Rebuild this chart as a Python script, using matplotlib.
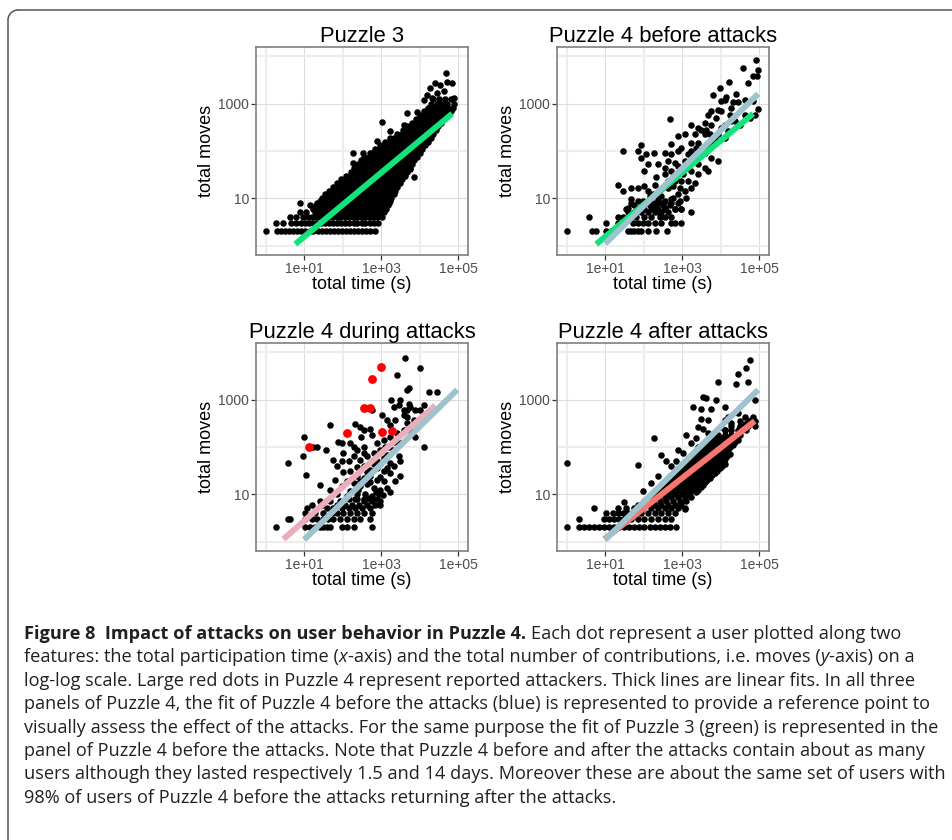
import numpy as np
import matplotlib
matplotlib.use('Agg')
import matplotlib.pyplot as plt
from matplotlib.patches import Arc
from matplotlib.ticker import NullFormatter

W, H = 953, 840

#### data: log10(total time in s), log10(total moves) ####

# Puzzle 3 : dense cloud, one row per moves level
p3_levels = [0.30, 0.48, 0.60, 0.70, 0.78, 0.85, 0.90, 0.95, 1.00, 1.08, 1.16, 1.24,
             1.32, 1.40, 1.48, 1.56, 1.64, 1.72, 1.80, 1.88, 1.96, 2.04, 2.12, 2.20,
             2.28, 2.36, 2.44, 2.52, 2.60, 2.68, 2.76, 2.84, 2.92, 3.00, 3.10]
p3_rows = [
    [0.0, 0.29, 0.40, 0.50, 0.61, 0.72, 0.82, 0.93, 1.03, 1.14, 1.24, 1.35, 1.45, 1.56, 1.66, 1.77, 1.87, 1.98, 2.08, 2.19, 2.29, 2.40, 2.50, 2.61, 2.71, 2.84],
    [0.27, 0.46, 0.66, 0.80, 0.91, 1.02, 1.12, 1.23, 1.33, 1.44, 1.54, 1.65, 1.75, 1.86, 1.96, 2.07, 2.17, 2.28, 2.38, 2.49, 2.59, 2.70, 2.80, 2.92],
    [0.64, 0.80, 0.98, 1.10, 1.21, 1.31, 1.42, 1.52, 1.63, 1.73, 1.84, 1.94, 2.05, 2.15, 2.26, 2.36, 2.47, 2.57, 2.68, 2.78, 2.89, 3.02],
    [0.88, 1.05, 1.27, 1.38, 1.48, 1.59, 1.69, 1.80, 1.90, 2.01, 2.11, 2.22, 2.32, 2.43, 2.53, 2.64, 2.74, 2.85, 2.95, 3.08],
    [1.22, 1.33, 1.44, 1.54, 1.65, 1.75, 1.86, 1.96, 2.07, 2.17, 2.28, 2.38, 2.49, 2.59, 2.70, 2.80, 2.91, 3.01, 3.12],
    [1.15, 1.30, 1.41, 1.51, 1.62, 1.72, 1.83, 1.93, 2.04, 2.14, 2.25, 2.35, 2.46, 2.56, 2.67, 2.77, 2.88, 2.98, 3.10, 3.17],
    [0.88, 1.32, 1.47, 1.58, 1.68, 1.79, 1.89, 2.00, 2.10, 2.21, 2.31, 2.42, 2.52, 2.63, 2.73, 2.84, 2.94, 3.05, 3.20],
    [1.40, 1.52, 1.63, 1.73, 1.84, 1.94, 2.05, 2.15, 2.26, 2.36, 2.47, 2.57, 2.68, 2.78, 2.89, 2.99, 3.10, 3.22],
    [1.45, 1.58, 1.69, 1.79, 1.90, 2.00, 2.11, 2.21, 2.32, 2.42, 2.53, 2.63, 2.74, 2.84, 2.95, 3.05, 3.16, 3.25],
    [1.55, 1.66, 1.76, 1.87, 1.97, 2.08, 2.18, 2.29, 2.39, 2.50, 2.60, 2.71, 2.81, 2.92, 3.02, 3.13, 3.23, 3.32],
    [1.64, 1.75, 1.85, 1.96, 2.06, 2.17, 2.27, 2.38, 2.48, 2.59, 2.69, 2.80, 2.90, 3.01, 3.11, 3.22, 3.36],
    [1.74, 1.85, 1.95, 2.06, 2.16, 2.27, 2.37, 2.48, 2.58, 2.69, 2.79, 2.90, 3.00, 3.11, 3.21, 3.32, 3.42],
    [1.84, 1.95, 2.05, 2.16, 2.26, 2.37, 2.47, 2.58, 2.68, 2.79, 2.89, 3.00, 3.10, 3.21, 3.31, 3.40, 3.49],
    [1.95, 2.06, 2.16, 2.27, 2.37, 2.48, 2.58, 2.69, 2.79, 2.90, 3.00, 3.11, 3.21, 3.32, 3.42, 3.55],
    [2.09, 2.20, 2.30, 2.41, 2.51, 2.62, 2.72, 2.83, 2.93, 3.04, 3.14, 3.25, 3.35, 3.46, 3.56, 3.61],
    [2.21, 2.32, 2.42, 2.53, 2.63, 2.74, 2.84, 2.95, 3.05, 3.16, 3.26, 3.37, 3.47, 3.58, 3.68],
    [2.30, 2.41, 2.51, 2.62, 2.72, 2.83, 2.93, 3.04, 3.14, 3.25, 3.35, 3.46, 3.56, 3.67, 3.74],
    [2.39, 2.50, 2.60, 2.71, 2.81, 2.92, 3.02, 3.13, 3.23, 3.34, 3.44, 3.55, 3.65, 3.76, 3.80],
    [2.48, 2.59, 2.69, 2.80, 2.90, 3.01, 3.11, 3.22, 3.32, 3.43, 3.53, 3.64, 3.74, 3.86],
    [2.56, 2.67, 2.77, 2.88, 2.98, 3.09, 3.19, 3.30, 3.40, 3.51, 3.61, 3.72, 3.82, 3.93],
    [2.71, 2.82, 2.92, 3.03, 3.13, 3.24, 3.34, 3.45, 3.55, 3.66, 3.76, 3.87, 4.00],
    [2.84, 2.95, 3.05, 3.16, 3.26, 3.37, 3.47, 3.58, 3.68, 3.79, 3.89, 4.00, 4.06],
    [2.97, 3.08, 3.18, 3.29, 3.39, 3.50, 3.60, 3.71, 3.81, 3.92, 4.02, 4.13],
    [3.10, 3.21, 3.31, 3.42, 3.52, 3.63, 3.73, 3.84, 3.94, 4.05, 4.15, 4.20],
    [3.23, 3.34, 3.44, 3.55, 3.65, 3.76, 3.86, 3.97, 4.07, 4.18, 4.28],
    [3.42, 3.53, 3.63, 3.74, 3.84, 3.95, 4.05, 4.16, 4.26, 4.35],
    [3.56, 3.67, 3.77, 3.88, 3.98, 4.09, 4.19, 4.30, 4.41],
    [3.67, 3.78, 3.88, 3.99, 4.09, 4.20, 4.30, 4.41, 4.48],
    [3.80, 3.91, 4.01, 4.12, 4.22, 4.33, 4.43, 4.55],
    [3.90, 4.01, 4.11, 4.22, 4.32, 4.43, 4.53, 4.62],
    [4.00, 4.11, 4.21, 4.32, 4.42, 4.53, 4.63, 4.70],
    [4.10, 4.21, 4.31, 4.42, 4.52, 4.63, 4.73, 4.80],
    [4.22, 4.35, 4.47, 4.60, 4.72, 4.85],
    [4.29, 4.45, 4.58, 4.70, 4.88],
    [4.35, 4.50, 4.66, 4.80],
]
p3_pts = [(3.01, 2.61), (2.26, 1.96), (2.26, 1.75), (2.52, 1.96), (2.76, 1.96), (2.89, 2.21),
          (3.23, 2.42), (3.58, 2.56), (3.84, 1.46), (3.75, 1.61), (4.17, 2.24), (3.93, 2.82),
          (3.67, 2.80), (4.69, 3.65), (4.40, 3.44), (4.71, 3.47), (4.84, 3.44), (4.53, 3.40),
          (4.27, 3.34), (4.19, 3.19), (4.45, 3.22), (4.62, 3.27), (4.88, 3.12), (4.10, 3.08),
          (4.32, 3.12)]

# Puzzle 4 before the attacks
before_pts = [
    (0.0, 0.30), (0.66, 0.30), (0.77, 0.30), (1.03, 0.30), (1.16, 0.30), (1.29, 0.30), (1.59, 0.30),
    (1.68, 0.30), (1.76, 0.30), (1.85, 0.30), (1.94, 0.30), (2.11, 0.30), (2.32, 0.30), (2.60, 0.30),
    (1.03, 0.48), (1.33, 0.48), (1.50, 0.48), (1.72, 0.48), (1.85, 0.48), (1.98, 0.48), (2.11, 0.48),
    (2.28, 0.48), (2.45, 0.48), (2.71, 0.48), (2.80, 0.48), (2.97, 0.48),
    (0.59, 0.60), (1.33, 0.60), (1.46, 0.60), (1.68, 0.60), (1.81, 0.60), (2.02, 0.60), (2.19, 0.60),
    (2.41, 0.60), (2.54, 0.60), (2.71, 0.60),
    (1.59, 0.70), (1.76, 0.70), (1.94, 0.70), (2.11, 0.70), (2.28, 0.70), (2.45, 0.70), (2.63, 0.70), (3.22, 0.70),
    (1.55, 0.78), (1.85, 0.78), (2.02, 0.78), (2.19, 0.78), (2.37, 0.78), (2.54, 0.78), (2.80, 0.78), (2.97, 0.78),
    (1.76, 0.85), (1.98, 0.85), (2.15, 0.85), (2.32, 0.85), (2.50, 0.85), (2.67, 0.85),
    (1.68, 0.90), (2.11, 0.90), (2.28, 0.90), (2.45, 0.90), (2.71, 0.90), (2.89, 0.90),
    (1.85, 0.95), (2.15, 0.95), (2.37, 1.00), (2.54, 0.95), (2.76, 1.00), (2.93, 0.95), (3.10, 1.00),
    (1.33, 1.28), (1.46, 1.15), (1.68, 1.22), (1.85, 1.22), (2.02, 1.26), (2.11, 1.15), (2.28, 1.29),
    (2.45, 1.19), (2.63, 1.22), (2.80, 1.36), (2.97, 1.36), (3.15, 1.36), (3.32, 1.33),
    (1.68, 0.98), (1.98, 0.94), (2.15, 1.05), (2.37, 0.94), (2.71, 0.98), (2.89, 1.08), (3.06, 1.15),
    (3.23, 1.22), (1.94, 0.77), (2.41, 0.66), (2.80, 0.78), (2.97, 0.78),
    (1.46, 2.01), (1.94, 2.12), (1.94, 1.86), (2.26, 1.96), (2.54, 1.96), (2.67, 2.68), (2.11, 1.72),
    (2.37, 1.72), (2.63, 1.79), (2.80, 1.75), (2.71, 1.93), (2.89, 2.00), (2.97, 2.07), (2.32, 1.44),
    (2.54, 1.51), (2.71, 1.58), (2.97, 1.58), (3.23, 1.58), (3.41, 1.51), (3.67, 1.58), (3.06, 1.79),
    (3.32, 1.79), (3.58, 1.65), (2.89, 2.31), (3.06, 2.35), (3.23, 2.17), (3.41, 2.17), (3.67, 2.14),
    (3.23, 2.00), (3.58, 1.96), (3.75, 1.86), (3.93, 1.79), (4.10, 2.28), (3.32, 2.35), (3.58, 2.35),
    (3.71, 2.35), (3.84, 2.28), (3.41, 2.49), (3.49, 2.45), (3.62, 2.45), (3.23, 2.56), (3.58, 2.59),
    (3.67, 2.77), (3.88, 2.70), (4.10, 2.56), (3.75, 2.84), (3.93, 2.87), (4.01, 2.84), (4.27, 2.91),
    (4.01, 3.05), (4.10, 3.08), (4.32, 3.03), (3.80, 3.19), (4.14, 3.15), (4.40, 3.21), (3.97, 3.33),
    (4.21, 3.47), (4.71, 3.44), (4.58, 3.75), (4.90, 3.93), (4.97, 3.72), (4.94, 3.58), (4.84, 3.58),
    (4.97, 2.89), (4.62, 2.77), (4.88, 2.77), (4.75, 2.70), (4.49, 2.56), (4.84, 3.05), (4.45, 3.03),
    (4.62, 3.08), (4.23, 2.77), (4.36, 2.63),
    (2.24, 1.08), (2.45, 1.05), (2.63, 1.36), (2.76, 1.26), (2.93, 1.22), (2.54, 1.65), (2.89, 1.68),
    (3.15, 1.68), (3.23, 1.79), (3.45, 1.89), (3.15, 1.93), (3.36, 2.07), (3.58, 2.10), (3.75, 2.21),
    (3.93, 2.35), (4.01, 2.49), (4.19, 2.42), (4.27, 2.63), (3.75, 2.56), (3.41, 1.72), (3.02, 1.51),
    (2.84, 1.44), (2.02, 1.58), (1.59, 0.80), (2.28, 0.80), (2.54, 0.80), (1.85, 2.00), (2.06, 1.93),
    (2.71, 2.14),
]

# Puzzle 4 during the attacks (black) and reported attackers (red)
during_pts = [
    (0.27, 0.30), (1.03, 0.30), (1.16, 0.30), (1.29, 0.30), (1.42, 0.30), (1.50, 0.30), (1.59, 0.30),
    (1.68, 0.30), (1.98, 0.30), (2.11, 0.30), (2.28, 0.30), (2.76, 0.30),
    (0.58, 0.48), (0.64, 0.48), (1.03, 0.48), (1.20, 0.48), (1.33, 0.48), (1.50, 0.48), (1.63, 0.48),
    (1.76, 0.48), (1.94, 0.48), (2.11, 0.48), (2.28, 0.48), (2.45, 0.48), (2.71, 0.48),
    (1.03, 0.60), (1.29, 0.60), (1.50, 0.60), (1.72, 0.60), (1.85, 0.60), (2.02, 0.60), (2.19, 0.60),
    (2.37, 0.60), (2.54, 0.60), (2.76, 0.60),
    (1.07, 0.70), (1.59, 0.70), (1.76, 0.70), (1.98, 0.70), (2.15, 0.70), (2.32, 0.70), (2.50, 0.70), (2.71, 0.70),
    (1.20, 0.78), (1.46, 0.78), (1.85, 0.78), (2.06, 0.78), (2.24, 0.78), (2.41, 0.78), (2.63, 0.78),
    (2.84, 0.78), (2.97, 0.78),
    (1.42, 0.85), (1.68, 0.85), (1.94, 0.85), (2.15, 0.90), (2.37, 0.90), (2.54, 0.90), (2.71, 0.90), (2.89, 0.90),
    (0.58, 1.66), (1.00, 2.21), (0.98, 1.82), (1.05, 1.40), (1.24, 2.01), (1.33, 2.00), (1.57, 1.93),
    (1.66, 2.46), (1.42, 1.20), (1.89, 2.11), (1.98, 2.08), (1.98, 1.70), (2.15, 1.70), (2.32, 2.48),
    (2.45, 2.43), (2.54, 2.36), (2.71, 2.39), (2.76, 2.25), (2.28, 2.01), (2.37, 1.94), (2.54, 2.01),
    (2.02, 1.47), (2.19, 1.49), (2.37, 1.58), (2.48, 2.21), (2.76, 2.78), (3.03, 2.67), (3.41, 3.53),
    (3.62, 3.89), (4.01, 3.67), (3.71, 3.25), (3.67, 3.21), (3.26, 3.00), (3.49, 3.00), (3.71, 2.92),
    (3.32, 2.85), (3.45, 2.88), (3.58, 2.78), (3.67, 2.78), (3.75, 2.85), (4.25, 3.16), (4.45, 3.17),
    (4.10, 2.88), (3.15, 2.57), (3.23, 2.46), (3.36, 2.57), (3.58, 2.67), (3.67, 2.64), (3.87, 2.22),
    (4.10, 2.01), (3.75, 2.36), (3.19, 2.01), (3.32, 1.94), (3.45, 1.80), (3.49, 1.70), (3.49, 1.38),
    (3.23, 1.05), (2.97, 0.86),
    (2.28, 1.80), (2.45, 1.73), (2.63, 1.80), (2.80, 1.87), (2.97, 1.94), (2.89, 1.70), (3.06, 1.77),
    (3.23, 1.66), (2.54, 1.59), (2.71, 1.52), (2.89, 1.56), (3.06, 1.49), (3.23, 1.45), (3.32, 1.59),
    (2.37, 1.38), (2.54, 1.35), (2.71, 1.38), (2.89, 1.31), (3.06, 1.28), (3.36, 1.28), (2.28, 1.24),
    (2.45, 1.17), (2.63, 1.21), (2.80, 1.14), (2.97, 1.10), (3.15, 1.14), (2.19, 1.07), (2.37, 1.00),
    (2.58, 1.00), (2.76, 0.97), (2.93, 1.00), (2.11, 0.97), (1.85, 1.00), (1.98, 1.17), (1.68, 1.10),
    (1.81, 1.31), (2.11, 1.28), (2.76, 0.86), (2.54, 0.86), (2.32, 0.90), (2.19, 2.08), (2.02, 1.87),
    (1.76, 1.73), (1.85, 1.59), (2.54, 1.87), (2.89, 2.08), (3.06, 2.15), (3.23, 2.22), (3.41, 2.29),
    (3.58, 2.36), (3.67, 2.50), (3.32, 2.11), (3.10, 2.01), (3.49, 2.08), (3.84, 2.57), (4.01, 2.78),
    (3.88, 2.78), (2.63, 1.47), (2.80, 1.63), (2.97, 1.63), (3.15, 1.84), (2.46, 1.28), (2.72, 1.27),
    (2.97, 1.37), (3.15, 1.55), (2.40, 1.10), (2.86, 1.05), (3.05, 0.98), (2.65, 0.93),
]
attackers = [(1.13, 2.01), (2.11, 2.29), (2.54, 2.83), (2.71, 2.83), (2.77, 3.44), (2.99, 3.70),
             (3.02, 2.31), (3.28, 2.34)]

# Puzzle 4 after the attacks : dense band, one row per moves level, plus scattered users
after_levels = [0.30, 0.48, 0.60, 0.70, 0.78, 0.85, 0.95, 1.00, 1.05, 1.10, 1.15, 1.20,
                1.25, 1.30, 1.35, 1.40, 1.45, 1.50, 1.55, 1.60, 1.65, 1.70, 1.75, 1.80,
                1.85, 1.90, 1.95, 2.00, 2.05, 2.10, 2.15, 2.20, 2.25, 2.35, 2.45, 2.55]
after_rows = [
    [0.0, 0.31, 0.46, 0.59, 0.72, 0.85, 0.98, 1.11, 1.24, 1.37, 1.50, 1.63, 1.76, 1.89, 2.02, 2.15, 2.28, 2.41, 2.54, 2.67, 2.84],
    [0.31, 0.98, 1.11, 1.24, 1.37, 1.50, 1.68, 1.85, 2.02, 2.19, 2.37, 2.54, 2.71],
    [1.03, 1.20, 1.33, 1.46, 1.59, 1.76, 1.94, 2.11, 2.28, 2.45, 2.63, 2.80],
    [0.70, 1.33, 1.55, 1.76, 1.98, 2.19, 2.37, 2.54, 2.71, 2.89, 3.06],
    [1.85, 2.11, 2.28, 2.45, 2.63, 2.80, 2.97],
    [2.02, 2.24, 2.41, 2.58, 2.76, 2.93, 3.10],
    [2.19, 2.37, 2.54, 2.71, 2.89, 3.06, 3.23],
    [2.28, 2.45, 2.62, 2.80, 2.98, 3.15],
    [2.37, 2.50, 2.67, 2.84, 3.02, 3.19, 3.36],
    [2.41, 2.58, 2.75, 2.92, 3.10, 3.27, 3.42],
    [2.45, 2.63, 2.80, 2.97, 3.15, 3.32, 3.49],
    [2.50, 2.67, 2.85, 3.02, 3.19, 3.36, 3.53],
    [2.54, 2.71, 2.89, 3.06, 3.23, 3.41, 3.58],
    [2.62, 2.80, 2.97, 3.14, 3.32, 3.49, 3.64],
    [2.71, 2.89, 3.06, 3.23, 3.41, 3.58, 3.71],
    [2.78, 2.95, 3.12, 3.30, 3.47, 3.64, 3.78],
    [2.84, 3.02, 3.19, 3.36, 3.54, 3.71, 3.84],
    [2.90, 3.08, 3.25, 3.42, 3.60, 3.77, 3.90],
    [2.97, 3.15, 3.32, 3.49, 3.67, 3.84, 3.97],
    [3.04, 3.21, 3.38, 3.56, 3.73, 3.90, 4.03],
    [3.10, 3.28, 3.45, 3.62, 3.80, 3.97, 4.10],
    [3.16, 3.33, 3.50, 3.67, 3.84, 4.01],
    [3.23, 3.41, 3.58, 3.75, 3.93, 4.10],
    [3.30, 3.47, 3.64, 3.81, 3.99, 4.16],
    [3.36, 3.54, 3.71, 3.88, 4.06, 4.23],
    [3.43, 3.60, 3.77, 3.94, 4.12],
    [3.49, 3.67, 3.84, 4.01, 4.19],
    [3.56, 3.73, 3.90, 4.07, 4.25],
    [3.62, 3.80, 3.97, 4.14, 4.32],
    [3.70, 3.86, 4.03, 4.20, 4.38],
    [3.75, 3.93, 4.10, 4.27, 4.45],
    [3.85, 4.02, 4.19, 4.38],
    [3.93, 4.10, 4.27, 4.49],
    [4.10, 4.27, 4.45, 4.66],
    [4.27, 4.49, 4.71, 4.88],
    [4.49, 4.71, 4.88],
]
after_pts = [(0.0, 1.66), (1.85, 1.61), (2.26, 2.18), (2.45, 1.84), (2.58, 1.70), (2.83, 1.70),
             (2.19, 1.24), (2.37, 1.38), (1.98, 1.07), (1.50, 0.83), (3.10, 2.25), (3.28, 2.85),
             (3.49, 2.60), (3.54, 2.39), (3.54, 3.06), (3.62, 3.04), (3.49, 2.81), (3.75, 2.81),
             (3.88, 3.00), (3.93, 3.37), (4.10, 2.85), (4.01, 2.43), (4.10, 2.36), (4.19, 2.64),
             (4.45, 3.54), (4.66, 3.68), (4.77, 3.84), (4.71, 3.38), (4.40, 3.33), (4.45, 2.71),
             (4.62, 2.64), (4.84, 2.64), (4.88, 2.99), (4.01, 1.70), (3.75, 1.87), (3.06, 0.69),
             (2.97, 0.83), (3.23, 2.08), (3.36, 2.18), (3.67, 2.29), (3.84, 2.15), (3.93, 2.01),
             (3.41, 2.01), (2.89, 1.94), (3.02, 1.87), (2.71, 1.59), (2.89, 1.52), (3.67, 2.57),
             (4.10, 2.57), (4.27, 2.50), (4.62, 2.48), (4.79, 2.57), (4.49, 2.43), (3.41, 2.43)]

# linear fits, end points (log10 time, log10 moves)
fit_p3_t, fit_p3_m = [0.77, 4.84], [0.03, 2.79]           # green
fit_before_t, fit_before_m = [1.00, 4.97], [0.04, 3.21]   # blue
fit_during_t, fit_during_m = [0.46, 4.40], [0.05, 2.88]   # pink
fit_after_t, fit_after_m = [0.98, 4.88], [0.05, 2.55]     # salmon

GREEN, BLUE, PINK, SALMON = '#12E47C', '#9EC2CE', '#ECADBA', '#F8766D'

caption = [
    "features: the total participation time (",
    "log-log scale. Large red dots in Puzzle 4 represent reported attackers. Thick lines are linear fits. In all three",
    "panels of Puzzle 4, the fit of Puzzle 4 before the attacks (blue) is represented to provide a reference point to",
    "visually assess the effect of the attacks. For the same purpose the fit of Puzzle 3 (green) is represented in the",
    "panel of Puzzle 4 before the attacks. Note that Puzzle 4 before and after the attacks contain about as many",
    "users although they lasted respectively 1.5 and 14 days. Moreover these are about the same set of users with",
    "98% of users of Puzzle 4 before the attacks returning after the attacks.",
]


def rows_to_pts(levels, rows):
    pts = []
    for lv, xs in zip(levels, rows):
        pts += [(x, lv) for x in xs]
    return pts


def scatter_pts(ax, pts, **kw):
    a = np.array(pts)
    ax.scatter(10 ** a[:, 0], 10 ** a[:, 1], linewidths=0, zorder=2, **kw)


def fit_line(ax, t, m, color):
    ax.plot(10 ** np.array(t), 10 ** np.array(m), color=color, lw=4.3,
            solid_capstyle='butt', zorder=3)


def style(ax, title):
    ax.set_xscale('log')
    ax.set_yscale('log')
    ax.set_xlim(10 ** -0.25, 10 ** 5.25)
    ax.set_ylim(10 ** -0.2, 10 ** 4.2)
    ax.set_xticks([1e1, 1e3, 1e5])
    ax.set_xticklabels(['1e+01', '1e+03', '1e+05'])
    ax.set_xticks([1, 1e2, 1e4], minor=True)
    ax.set_yticks([10, 1000])
    ax.set_yticklabels(['10', '1000'])
    ax.set_yticks([1, 1e2, 1e4], minor=True)
    ax.xaxis.set_minor_formatter(NullFormatter())
    ax.yaxis.set_minor_formatter(NullFormatter())
    ax.tick_params(which='minor', length=0)
    ax.tick_params(which='major', length=3.5, width=0.9, color='#333333',
                   labelsize=10, labelcolor='#4D4D4D', pad=1.5)
    ax.grid(which='major', color='#DCDCDC', lw=0.8)
    ax.grid(which='minor', color='#EDEDED', lw=1.6)
    ax.set_axisbelow(True)
    for s in ax.spines.values():
        s.set_color('#7F7F7F')
        s.set_linewidth(1.2)
    ax.set_title(title, fontsize=15.8, pad=3)
    ax.set_xlabel('total time (s)', fontsize=13, labelpad=0)
    ax.set_ylabel('total moves', fontsize=13, labelpad=2)


plt.rcParams['font.family'] = ['Liberation Sans', 'DejaVu Sans']

fig = plt.figure(figsize=(W / 100, H / 100), dpi=100)


def panel_axes(x0, y0):
    # pixel box of the panel -> figure fraction
    return fig.add_axes([x0 / W, 1 - (y0 + 208) / H, 212 / W, 208 / H])


ax1 = panel_axes(256, 47)
ax2 = panel_axes(557, 47)
ax3 = panel_axes(256, 343)
ax4 = panel_axes(557, 343)

DOT = 22
scatter_pts(ax1, rows_to_pts(p3_levels, p3_rows) + p3_pts, s=DOT, c='black')
fit_line(ax1, fit_p3_t, fit_p3_m, GREEN)
style(ax1, 'Puzzle 3')

scatter_pts(ax2, before_pts, s=DOT, c='black')
fit_line(ax2, fit_p3_t, fit_p3_m, GREEN)
fit_line(ax2, fit_before_t, fit_before_m, BLUE)
style(ax2, 'Puzzle 4 before attacks')

scatter_pts(ax3, during_pts, s=DOT, c='black')
scatter_pts(ax3, attackers, s=40, c='#FF0000')
fit_line(ax3, fit_during_t, fit_during_m, PINK)
fit_line(ax3, fit_before_t, fit_before_m, BLUE)
style(ax3, 'Puzzle 4 during attacks')

scatter_pts(ax4, rows_to_pts(after_levels, after_rows) + after_pts, s=DOT, c='black')
fit_line(ax4, fit_after_t, fit_after_m, SALMON)
fit_line(ax4, fit_before_t, fit_before_m, BLUE)
style(ax4, 'Puzzle 4 after attacks')

#### frame and caption, drawn in pixel coordinates ####
ov = fig.add_axes([0, 0, 1, 1])
ov.set_xlim(0, W)
ov.set_ylim(H, 0)
ov.axis('off')
ov.patch.set_alpha(0)

bc = '#555555'
ov.plot([8, 8], [H, 20], color=bc, lw=1.1)
ov.plot([18, W], [10, 10], color=bc, lw=1.1)
ov.add_patch(Arc((18, 20), 20, 20, theta1=180, theta2=270, color=bc, lw=1.1))

cap_fam = ['Open Sans', 'DejaVu Sans']
cap_col = '#231F20'
r = fig.canvas.get_renderer()


def text_w(s, fs, **kw):
    t = ov.text(0, 0, s, fontsize=fs, family=cap_fam, **kw)
    w = t.get_window_extent(r).width
    t.remove()
    return w


fs = 12 * 916 / text_w(caption[5], 12)
sp = text_w('n n', fs) - text_w('nn', fs)


def put(x, y, s, **kw):
    t = ov.text(x, y, s, fontsize=fs, family=cap_fam, color=cap_col, va='baseline', ha='left', **kw)
    return x + t.get_window_extent(r).width


x0, y0, dy = 24, 639, 23.4
x = put(x0, y0, 'Figure 8  Impact of attacks on user behavior in Puzzle 4.', fontweight='bold')
put(x + sp, y0, 'Each dot represent a user plotted along two')
x = put(x0, y0 + dy, caption[0])
x = put(x, y0 + dy, 'x', fontstyle='italic')
x = put(x, y0 + dy, '-axis) and the total number of contributions, i.e. moves (')
x = put(x, y0 + dy, 'y', fontstyle='italic')
put(x, y0 + dy, '-axis) on a')
for i, line in enumerate(caption[1:]):
    put(x0, y0 + dy * (i + 2), line)

fig.savefig('out.png', dpi=100)
